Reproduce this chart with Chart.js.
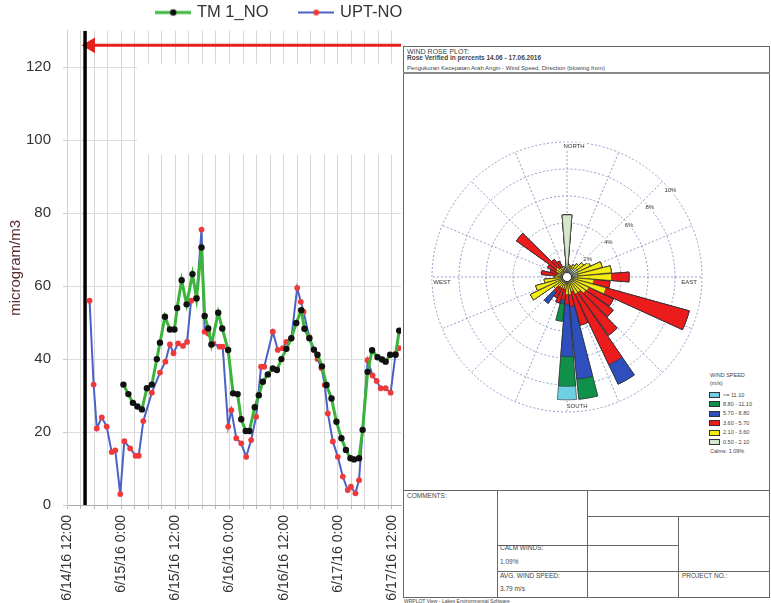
<!DOCTYPE html>
<html>
<head>
<meta charset="utf-8">
<script src="https://cdn.jsdelivr.net/npm/chart.js@4.4.1/dist/chart.umd.min.js"></script>
<style>
  html, body { margin: 0; padding: 0; background: #fff; }
  body { width: 771px; height: 603px; position: relative; overflow: hidden; font-family: Arial, "Liberation Sans", sans-serif; }
  .abs { position: absolute; }
  .t { position: absolute; font-size: 6.5px; color: #444; white-space: nowrap; line-height: 1; }
  .hl { position: absolute; height: 0; border-top: 1.5px solid #666; }
  .vl { position: absolute; width: 0; border-left: 1.5px solid #666; }
  .sw { position: absolute; width: 11px; height: 6px; border: 1px solid #333; box-sizing: border-box; }
</style>
</head>
<body>
<canvas id="noChart" class="abs" width="560" height="603" style="left:0;top:0"></canvas>

<!-- wind rose sheet -->
<div class="abs" style="left:402px;top:0;width:369px;height:603px;background:#fff"></div>
<div class="abs" style="left:403px;top:46px;width:367px;height:552px;border:1.5px solid #666;box-sizing:border-box"></div>
<div class="t" style="left:407px;top:48px;font-size:7px">WIND ROSE PLOT:</div>
<div class="t" style="left:407px;top:55px;font-size:6.5px;font-weight:bold">Rose Verified in percents 14.06 - 17.06.2016</div>
<div class="t" style="left:407px;top:65px;font-size:6px">Pengukuran Kecepatan Arah Angin - Wind Speed, Direction (blowing from)</div>
<div class="hl" style="left:403px;top:72px;width:367px;border-top:2px solid #888"></div>

<div class="hl" style="left:403px;top:490px;width:367px"></div>
<div class="vl" style="left:497px;top:490px;height:108px"></div>
<div class="vl" style="left:587px;top:490px;height:108px"></div>
<div class="hl" style="left:587px;top:516px;width:183px"></div>
<div class="vl" style="left:678px;top:516px;height:82px"></div>
<div class="hl" style="left:497px;top:545px;width:181px"></div>
<div class="hl" style="left:497px;top:571px;width:273px"></div>
<div class="t" style="left:407px;top:493px">COMMENTS:</div>
<div class="t" style="left:500px;top:545px">CALM WINDS:</div>
<div class="t" style="left:500px;top:559px">1.09%</div>
<div class="t" style="left:500px;top:573px">AVG. WIND SPEED:</div>
<div class="t" style="left:500px;top:586px">3.79 m/s</div>
<div class="t" style="left:682px;top:573px">PROJECT NO.:</div>
<div class="t" style="left:404px;top:599px;font-size:5px">WRPLOT View - Lakes Environmental Software</div>

<div class="t" style="left:710px;top:373px;font-size:5.5px">WIND SPEED</div>
<div class="t" style="left:710px;top:381px;font-size:5.5px">(m/s)</div>
<div id="roseLegend"></div>
<div class="t" style="left:710px;top:449px;font-size:5.5px">Calms: 1.09%</div>

<canvas id="roseChart" class="abs" width="290" height="290" style="left:422px;top:132px"></canvas>

<script>
// ---------- NO concentrations (hours after 6/14/16 12:00) ----------
const seriesNames = ['TM 1_NO', 'UPT-NO'];
const tickLabels = ['6/14/16 12:00', '6/15/16 0:00', '6/15/16 12:00', '6/16/16 0:00',
                    '6/16/16 12:00', '6/17/16 0:00', '6/17/16 12:00'];

const tmHours = [12.5, 13.6, 14.6, 15.6, 16.6, 17.7, 18.8, 19.9, 20.6, 21.7, 22.8, 23.8, 24.4, 25.4,
  26.5, 27.8, 28.7, 29.8, 30.5, 31.3, 32.0, 33.5, 34.4, 35.7, 36.8, 37.8, 38.6, 39.6, 40.4, 41.6,
  42.5, 43.4, 44.5, 45.6, 46.5, 47.5, 48.6, 49.7, 50.8, 51.9, 52.6, 53.7, 54.7, 55.5, 56.5, 57.5,
  58.6, 59.7, 60.8, 61.8, 62.8, 63.6, 64.7, 65.5, 66.6, 67.6, 68.8, 69.8, 70.6, 71.6, 72.8, 73.6];
const tmValues = [33, 30.4, 28, 27, 26.2, 32, 33, 40, 44.5, 51.6, 48.1, 48.1, 54, 61.6,
  55, 63.3, 56.6, 70.6, 51.8, 48.4, 44, 52.7, 48.4, 42.5, 30.6, 30.4, 23.5, 20.3, 20.3, 26.8,
  30.1, 33.8, 35.8, 37.4, 37, 40, 42.8, 45.7, 49.9, 53.4, 48.3, 45.7, 42.6, 41.2, 38, 32.9,
  29.2, 22.8, 18.3, 15.1, 12.8, 12.5, 12.8, 20.6, 36.5, 42.4, 40.5, 39.9, 39.3, 41.2, 41.2, 47.8];

const uptHours = [5.0, 5.9, 6.6, 7.7, 8.8, 9.9, 10.7, 11.8, 12.7, 14.0, 15.2, 15.9, 16.9, 18.8,
  20.6, 21.8, 22.8, 23.6, 24.6, 25.7, 26.6, 27.5, 28.7, 29.8, 30.5, 31.3, 32.4, 33.8, 34.5, 35.7,
  36.4, 37.5, 38.6, 39.7, 40.8, 41.9, 43.0, 43.7, 45.6, 46.7, 47.8, 48.6, 49.7, 51.0, 51.8, 52.4,
  53.7, 54.7, 55.5, 56.4, 57.1, 57.8, 58.9, 60.0, 61.1, 62.2, 62.9, 63.9, 64.7, 66.6, 67.7, 68.6,
  69.5, 70.6, 71.7, 72.8, 73.6];
const uptValues = [56, 33, 21, 24, 21.5, 14.5, 15, 3, 17.5, 15.5, 13.5, 13.5, 23, 30.8,
  36.3, 39.3, 44, 41.6, 44.3, 43.6, 44.7, 56, 57, 75.5, 47.5, 47, 44.3, 43.4, 43.4, 21.5,
  26, 18.3, 16.9, 13.2, 17.8, 24.2, 37.9, 37.9, 47.5, 42.5, 43, 44.7, 45.7, 59.5, 55.7, 53,
  46, 42.5, 40, 37.5, 32.9, 25.1, 17.4, 13.2, 7.8, 4.1, 5, 3.2, 6.8, 39.7, 35.5, 34,
  32, 32, 30.8, 41.5, 43];

// reference marker: vertical line at the start time, arrow level across the period
const markerHour = 4;
const arrowLevel = 126;
const arrowEndHour = 74;

const toPoints = (xs, ys) => xs.map((x, i) => ({ x, y: ys[i] }));

function legendIcon(lineColor, lineWidth, dotColor, dotRadius) {
  const c = document.createElement('canvas');
  c.width = 36; c.height = 10;
  const g = c.getContext('2d');
  g.strokeStyle = lineColor; g.lineWidth = lineWidth;
  g.beginPath(); g.moveTo(0, 5); g.lineTo(36, 5); g.stroke();
  g.fillStyle = dotColor;
  g.beginPath(); g.arc(18, 5, dotRadius, 0, Math.PI * 2); g.fill();
  return c;
}
const tmIcon = legendIcon('#3cb43c', 3, '#111', 3.2);
const uptIcon = legendIcon('#4a62c4', 2, '#f03a3a', 3);

const FONT = 'Arial, "Liberation Sans", sans-serif';

// the upper grid is left open to the right of the first day, with only short stubs at the top
const openUpperGrid = {
  id: 'openUpperGrid',
  beforeDatasetsDraw(chart) {
    const { ctx, chartArea, scales } = chart;
    const x0 = scales.x.getPixelForValue(15.5);
    const yTop = scales.y.getPixelForValue(121) ;
    const yBot = scales.y.getPixelForValue(96);
    ctx.save();
    ctx.fillStyle = '#fff';
    ctx.fillRect(x0, yTop, chartArea.right - x0 + 1, yBot - yTop);
    ctx.restore();
  }
};

new Chart(document.getElementById('noChart'), {
  type: 'line',
  data: {
    datasets: [
      {
        label: seriesNames[0],
        data: toPoints(tmHours, tmValues),
        borderColor: '#3cb43c', borderWidth: 3,
        pointRadius: 3.2, pointBackgroundColor: '#111', pointBorderColor: '#111', pointBorderWidth: 0,
        tension: 0
      },
      {
        label: seriesNames[1],
        data: toPoints(uptHours, uptValues),
        borderColor: '#4a62c4', borderWidth: 2,
        pointRadius: 2.9, pointBackgroundColor: '#f03a3a', pointBorderColor: '#f03a3a', pointBorderWidth: 0,
        tension: 0
      },
      {
        label: 'marker',
        data: [{ x: markerHour, y: 0 }, { x: markerHour, y: 130 }],
        borderColor: '#000', borderWidth: 3.5, pointRadius: 0
      },
      {
        label: 'arrow',
        data: [{ x: markerHour + 1.2, y: arrowLevel }, { x: arrowEndHour, y: arrowLevel }],
        borderColor: '#e5211d', borderWidth: 3,
        pointStyle: 'triangle', rotation: 270,
        pointRadius: [6, 0], pointBackgroundColor: '#e5211d', pointBorderColor: '#e5211d'
      }
    ]
  },
  options: {
    responsive: false,
    animation: false,
    devicePixelRatio: 1,
    layout: { padding: { top: -28, left: 0, right: 0, bottom: 0 } },
    plugins: {
      tooltip: { enabled: false },
      legend: {
        display: true,
        position: 'top',
        align: 'center',
        labels: {
          usePointStyle: true,
          pointStyleWidth: 31,
          padding: 32.25,
          color: '#333',
          font: { family: FONT, size: 16.5 },
          generateLabels: () => [
            { text: seriesNames[0], pointStyle: tmIcon, fontColor: '#333', lineWidth: 0,
              strokeStyle: 'rgba(0,0,0,0)', fillStyle: 'rgba(0,0,0,0)', datasetIndex: 0, hidden: false },
            { text: seriesNames[1], pointStyle: uptIcon, fontColor: '#333', lineWidth: 0,
              strokeStyle: 'rgba(0,0,0,0)', fillStyle: 'rgba(0,0,0,0)', datasetIndex: 1, hidden: false }
          ]
        }
      }
    },
    scales: {
      x: {
        type: 'linear',
        min: 0, max: 74,
        afterFit: s => { s.height = 98; },
        grid: { color: '#d6d6d6', lineWidth: 1, tickLength: 4, tickColor: '#bbb' },
        border: { display: true, color: '#aaa' },
        ticks: {
          stepSize: 3,
          autoSkip: false,
          includeBounds: false,
          minRotation: 90, maxRotation: 90,
          padding: 6,
          color: '#333',
          font: { family: FONT, size: 14 },
          callback: v => (v % 12 === 0 ? tickLabels[v / 12] : '')
        }
      },
      y: {
        type: 'linear',
        position: 'left',
        min: 0, max: 130,
        afterFit: s => { s.width = 67; },
        grid: { color: '#dcdcdc', lineWidth: 1, tickLength: 4, tickColor: '#ccc' },
        border: { display: true, color: '#d0d0d0' },
        ticks: {
          stepSize: 20,
          includeBounds: false,
          padding: 12,
          color: '#333',
          font: { family: FONT, size: 15 }
        },
        title: {
          display: true,
          text: 'microgram/m3',
          color: '#5a2d2d',
          font: { family: FONT, size: 15 },
          padding: { top: 7, bottom: 0 }
        }
      },
      side: {
        type: 'linear',
        position: 'right',
        display: true,
        afterFit: s => { s.width = 159; },
        grid: { display: false, drawTicks: false },
        border: { display: false },
        ticks: { display: false }
      }
    }
  },
  plugins: [openUpperGrid]
});

// ---------- Wind rose: frequency (%) per 10° sector, by wind speed class ----------
const directions = Array.from({ length: 36 }, (_, i) => i * 10);
const speedClasses = ['0.50 - 2.10', '2.10 - 3.60', '3.60 - 5.70', '5.70 - 8.80', '8.80 - 11.10', '>= 11.10'];
const classColors = ['#d3e8cc', '#f2ee12', '#ec1c1c', '#2f4fbf', '#11904a', '#6fcfe4'];

const freq0to2 = [4.6, 0.7, 0.6, 0.7, 0.8, 0.9, 0.9, 0.8, 0.8, 0.8, 0.5, 0.5, 0.5, 0.5, 0.4, 0.4, 0.3, 0.5,
                  0.5, 0.4, 0.4, 0.3, 0.3, 0.4, 0.4, 0.4, 0.5, 0.5, 0.4, 0.4, 0.5, 0.5, 0.5, 0.5, 0.6, 0.7];
const freq2to3 = [0, 0.2, 0.2, 0.3, 0.4, 0.6, 1.0, 1.9, 2.5, 2.5, 1.5, 2.5, 1.3, 1.2, 1.0, 1.0, 0.8, 0.8,
                  0.8, 0.5, 0.5, 0.6, 0.6, 0.8, 2.6, 2.0, 1.2, 0.4, 0.4, 0.3, 0.4, 0.5, 0.3, 0.3, 0.2, 0];
const freq3to5 = [0, 0, 0, 0, 0, 0, 0, 0, 0, 1.3, 1.2, 6.4, 2.0, 2.5, 3.9, 5.8, 2.6, 0.9,
                  0.7, 0.8, 1.1, 0.8, 0.5, 0, 0, 0, 0, 0, 1.1, 0.6, 0.7, 3.6, 0.8, 0.5, 0, 0];
const freq5to8 = [0, 0, 0, 0, 0, 0, 0, 0, 0, 0, 0, 0, 0, 0, 0, 1.6, 0, 5.4,
                  3.9, 0.3, 0, 0, 1.0, 0, 0, 0, 0, 0, 0, 0, 0, 0, 0, 0, 0, 0];
const freq8to11 = [0, 0, 0, 0, 0, 0, 0, 0, 0, 0, 0, 0, 0, 0, 0, 0, 0, 1.5,
                   2.2, 1.3, 0, 0, 0, 0, 0, 0, 0, 0, 0, 0, 0, 0, 0, 0, 0, 0];
const freqAbove11 = [0, 0, 0, 0, 0, 0, 0, 0, 0, 0, 0, 0, 0, 0, 0, 0, 0, 0,
                     1.0, 0, 0, 0, 0, 0, 0, 0, 0, 0, 0, 0, 0, 0, 0, 0, 0, 0];
const ringValues = [2, 4, 6, 8, 10];

const classFreqs = [freq0to2, freq2to3, freq3to5, freq5to8, freq8to11, freqAbove11];

// stacked petals: each class is drawn out to its cumulative radius, a narrow gap follows each sector
const roseDatasets = classFreqs.map((_, k) => {
  const data = [];
  directions.forEach((d, i) => {
    let cum = 0;
    for (let j = 0; j <= k; j++) cum += classFreqs[j][i];
    data.push(+cum.toFixed(2));
    data.push(0);
  });
  return {
    label: speedClasses[k],
    data,
    backgroundColor: classColors[k],
    borderColor: '#2b2b2b',
    borderWidth: c => (c.dataIndex % 2 ? 0 : 0.6),
    angle: c => (c.dataIndex % 2 ? 1 : 9)
  };
});

// legend swatches beside the rose (highest class first)
(function () {
  const host = document.getElementById('roseLegend');
  const order = [5, 4, 3, 2, 1, 0];
  order.forEach((k, r) => {
    const top = 392 + r * 9.4;
    const sw = document.createElement('div');
    sw.className = 'sw';
    sw.style.left = '709px'; sw.style.top = top + 'px'; sw.style.background = classColors[k];
    host.appendChild(sw);
    const tx = document.createElement('div');
    tx.className = 't';
    tx.style.left = '723px'; tx.style.top = (top + 0.5) + 'px'; tx.style.fontSize = '5.5px';
    tx.textContent = speedClasses[k];
    host.appendChild(tx);
  });
})();

const roseDecor = {
  id: 'roseDecor',
  beforeDatasetsDraw(chart) {
    const s = chart.scales.r, ctx = chart.ctx;
    const cx = s.xCenter, cy = s.yCenter, R = s.drawingArea;
    ctx.save();
    ctx.strokeStyle = '#7c86bb';
    ctx.lineWidth = 0.8;
    ctx.setLineDash([2, 2]);
    for (let i = 0; i < 16; i++) {
      const a = i * Math.PI / 8;
      ctx.beginPath();
      ctx.moveTo(cx, cy);
      ctx.lineTo(cx + R * Math.sin(a), cy - R * Math.cos(a));
      ctx.stroke();
    }
    ctx.restore();
  },
  afterDatasetsDraw(chart) {
    const s = chart.scales.r, ctx = chart.ctx;
    const cx = s.xCenter, cy = s.yCenter, R = s.drawingArea;
    ctx.save();
    // calm circle
    ctx.fillStyle = '#fff';
    ctx.strokeStyle = '#333';
    ctx.lineWidth = 1;
    ctx.beginPath(); ctx.arc(cx, cy, 4.5, 0, Math.PI * 2); ctx.fill(); ctx.stroke();

    ctx.font = '6px ' + FONT;
    ctx.textAlign = 'center';
    ctx.textBaseline = 'middle';
    const label = (txt, x, y) => {
      const w = ctx.measureText(txt).width;
      ctx.fillStyle = '#fff';
      ctx.fillRect(x - w / 2 - 1, y - 3.5, w + 2, 7);
      ctx.fillStyle = '#333';
      ctx.fillText(txt, x, y);
    };
    const a = 50 * Math.PI / 180;
    ringValues.forEach(v => {
      const r = s.getDistanceFromCenterForValue(v);
      label(v + '%', cx + r * Math.sin(a), cy - r * Math.cos(a));
    });
    label('NORTH', cx + 7, cy - R + 4);
    label('SOUTH', cx + 10, cy + R - 6);
    label('WEST', cx - R + 10, cy + 5);
    label('EAST', cx + R - 13, cy + 5);
    ctx.restore();
  }
};

new Chart(document.getElementById('roseChart'), {
  type: 'polarArea',
  data: { labels: roseDatasets[0].data.map((_, i) => i), datasets: roseDatasets },
  options: {
    responsive: false,
    animation: false,
    devicePixelRatio: 1,
    layout: { padding: 10 },
    plugins: { legend: { display: false }, tooltip: { enabled: false } },
    scales: {
      r: {
        min: 0, max: 10,
        startAngle: -4.5,
        ticks: { display: false, stepSize: 2 },
        grid: { circular: true, color: '#7c86bb', lineWidth: 0.8 },
        border: { dash: [2, 2] },
        angleLines: { display: false },
        pointLabels: { display: false }
      }
    }
  },
  plugins: [roseDecor]
});
</script>
</body>
</html>
